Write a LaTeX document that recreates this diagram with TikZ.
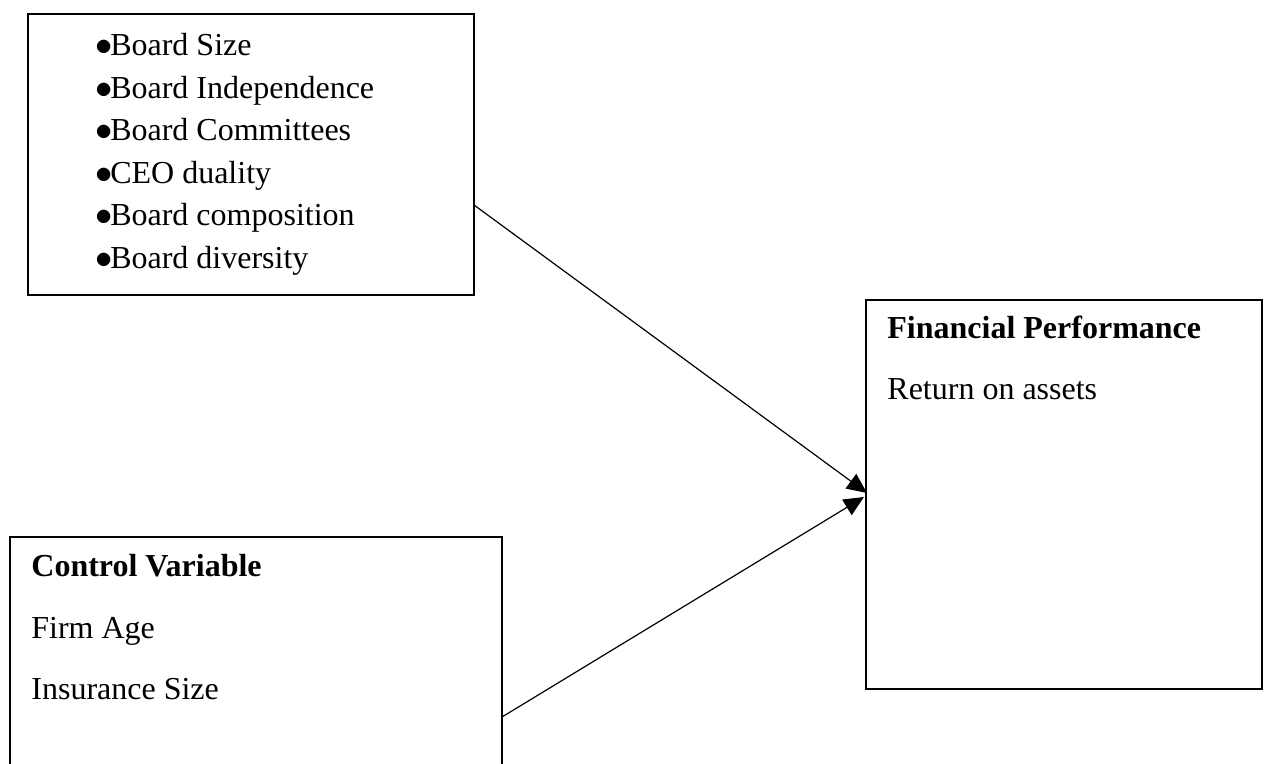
\documentclass[tikz,border=0pt]{standalone}
\usepackage{fontspec}
\setmainfont{Liberation Serif}
\usetikzlibrary{arrows.meta}
\newcommand{\blt}{$\bullet$\kern-1.2pt}
\tikzset{
  box/.style={draw=black, line width=0.75pt, rectangle, inner sep=0pt},
  txt/.style={anchor=base west, inner sep=0pt, font=\fontsize{16}{19}\selectfont},
  btxt/.style={txt, font=\fontsize{16}{19}\selectfont\bfseries},
  arr/.style={line width=0.6pt, -{Triangle[length=10pt,width=9pt]}}
}
\begin{document}
\begin{tikzpicture}[x=0.5pt,y=-0.5pt]
\useasboundingbox (0,0) rectangle (1265,764);
\clip (0,0) rectangle (1265,764);
% boxes
\node[box, minimum width=223pt, minimum height=140.5pt] (b1) at (251,154.5) {};
\node[box, minimum width=246pt, minimum height=130pt] (b2) at (256,667) {};
\node[box, minimum width=198pt, minimum height=194.5pt] (b3) at (1064,494.5) {};
% box 1 text
\node[txt] (t1) at (95,56) {\blt Board Size};
\node[txt] (t2) at (95,98.5) {\blt Board Independence};
\node[txt] (t3) at (95,141) {\blt Board Committees};
\node[txt] (t4) at (95,183.5) {\blt CEO duality};
\node[txt] (t5) at (95,226) {\blt Board composition};
\node[txt] (t6) at (95,268.5) {\blt Board diversity};
% box 2 text
\node[btxt] (c1) at (31,577) {Control Variable};
\node[txt] (c2) at (31,638.5) {Firm Age};
\node[txt] (c3) at (31,700) {Insurance Size};
% box 3 text
\node[btxt] (f1) at (887,339) {Financial Performance};
\node[txt] (f2) at (887,400) {Return on assets};
% connectors
\coordinate (a1s) at (474,205);
\coordinate (a1e) at (867,493);
\coordinate (a2s) at (502,717);
\coordinate (a2e) at (864,497);
\draw[arr] (a1s) -- (a1e);
\draw[arr] (a2s) -- (a2e);
\end{tikzpicture}
\end{document}
